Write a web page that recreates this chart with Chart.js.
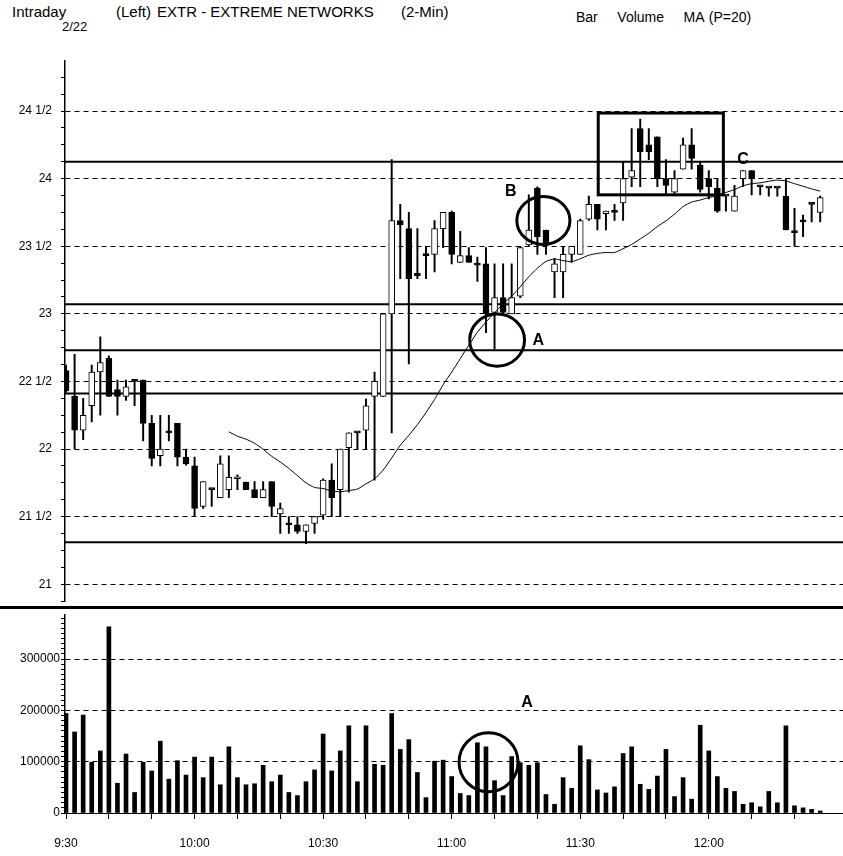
<!DOCTYPE html>
<html>
<head>
<meta charset="utf-8">
<script src="https://cdn.jsdelivr.net/npm/chart.js@4.4.1/dist/chart.umd.min.js"></script>
<style>
  body { margin: 0; background: #fff; }
  #wrap { position: relative; width: 843px; height: 856px; font-family: "Liberation Sans", Arial, sans-serif; color: #000; }
  .txt { position: absolute; white-space: pre; }
  canvas { position: absolute; left: 0; }
  #sep { position: absolute; left: 0; top: 606px; width: 843px; height: 3px; background: #000; }
</style>
</head>
<body>
<div id="wrap">
  <div class="txt" style="left:12px;top:3px;font-size:15px">Intraday</div>
  <div class="txt" style="left:62px;top:19px;font-size:13px">2/22</div>
  <div class="txt" style="left:116px;top:3px;font-size:15px">(Left)</div>
  <div class="txt" style="left:157px;top:3px;font-size:15px">EXTR - EXTREME NETWORKS</div>
  <div class="txt" style="left:401px;top:3px;font-size:15px">(2-Min)</div>
  <div class="txt" style="left:576px;top:9px;font-size:14px;word-spacing:1px">Bar    Volume    MA (P=20)</div>
  <canvas id="priceChart" width="843" height="618" style="top:0"></canvas>
  <canvas id="volumeChart" width="843" height="251" style="top:605px"></canvas>
  <div id="sep"></div>
</div>
<script>
// 2-minute bars from 9:30, index 0..88
const opens = [
  22.58, 22.39, 22.14, 22.32, 22.57, 22.67, 22.44, 22.39, 22.5, 22.51,
  22.19, 21.95, 22.13, 22.19, 21.94, 21.875, 21.575, 21.7, 21.64, 21.7,
  21.78, 21.755, 21.7, 21.64, 21.76, 21.52, 21.44, 21.44, 21.39, 21.45,
  21.51, 21.77, 21.7, 22.01, 22.12, 22.14, 22.39, 22.39, 23.0, 23.69,
  23.63, 23.3, 23.43, 23.44, 23.63, 23.75, 23.38, 23.43, 23.37, 23.37,
  23.01, 23.12, 23.0, 23.13, 23.51, 23.93, 23.62, 23.31, 23.31, 23.44,
  23.44, 23.7, 23.81, 23.74, 23.75, 23.82, 24.01, 24.37, 24.25, 24.31,
  24.0, 23.9, 24.07, 24.25, 24.1, 24.0, 23.93, 23.87, 23.76, 24.0,
  24.06, 23.94, 23.93, 23.93, 23.87, 23.61, 23.68, 23.81, 23.75
];
const highs = [
  22.62, 22.7, 22.375, 22.62, 22.83, 22.69, 22.51, 22.51, 22.51, 22.51,
  22.25, 22.25, 22.25, 22.19, 22.0, 21.94, 21.76, 21.7, 21.95, 21.95,
  21.81, 21.755, 21.76, 21.76, 21.76, 21.6, 21.5, 21.5, 21.44, 21.5,
  21.78, 21.89, 22.0, 22.12, 22.12, 22.37, 22.57, 23.0, 24.14, 23.81,
  23.75, 23.63, 23.5, 23.69, 23.75, 23.76, 23.61, 23.49, 23.42, 23.49,
  23.37, 23.37, 23.37, 23.5, 23.88, 23.94, 23.62, 23.41, 23.5, 23.5,
  23.7, 23.87, 23.81, 23.76, 23.81, 24.12, 24.37, 24.44, 24.37, 24.31,
  24.14, 24.06, 24.3, 24.37, 24.12, 24.06, 24.0, 23.87, 23.95, 24.06,
  24.06, 23.94, 23.93, 23.93, 24.0, 23.78, 23.73, 23.81, 23.87
];
const lows = [
  22.42, 22.0, 22.07, 22.2, 22.25, 22.39, 22.25, 22.36, 22.32, 22.06,
  21.875, 21.875, 22.06, 21.875, 21.88, 21.5, 21.56, 21.575, 21.64, 21.64,
  21.7, 21.7, 21.64, 21.64, 21.5, 21.375, 21.375, 21.375, 21.3, 21.375,
  21.48, 21.5, 21.5, 21.68, 22.0, 22.0, 21.77, 22.39, 22.12, 23.26,
  22.63, 23.26, 23.26, 23.31, 23.49, 23.37, 23.38, 23.38, 23.24, 22.86,
  22.74, 22.99, 23.0, 23.12, 23.5, 23.44, 23.44, 23.12, 23.12, 23.38,
  23.44, 23.69, 23.62, 23.62, 23.69, 23.69, 23.94, 23.94, 24.14, 23.94,
  23.89, 23.89, 24.07, 24.07, 23.9, 23.85, 23.75, 23.76, 23.76, 23.94,
  23.88, 23.88, 23.87, 23.87, 23.62, 23.5, 23.57, 23.68, 23.68
];
const closes = [
  22.43, 22.14, 22.25, 22.57, 22.64, 22.39, 22.39, 22.46, 22.5, 22.19,
  21.93, 22.0, 22.12, 21.94, 21.89, 21.56, 21.76, 21.7, 21.89, 21.79,
  21.79, 21.7, 21.64, 21.7, 21.575, 21.56, 21.44, 21.39, 21.44, 21.5,
  21.77, 21.64, 22.0, 22.12, 22.12, 22.32, 22.5, 23.0, 23.69, 23.66,
  23.26, 23.28, 23.43, 23.63, 23.75, 23.44, 23.43, 23.38, 23.36, 23.0,
  23.12, 23.01, 23.12, 23.49, 23.62, 23.57, 23.51, 23.37, 23.44, 23.5,
  23.69, 23.81, 23.7, 23.76, 23.75, 24.0, 24.06, 24.2, 24.2, 24.0,
  23.95, 24.0, 24.25, 24.15, 23.92, 23.94, 23.76, 23.87, 23.87, 24.06,
  24.0, 23.94, 23.93, 23.93, 23.62, 23.6, 23.68, 23.81, 23.86
];
const volumes = [
  194000, 158000, 191000, 99000, 121000, 363000, 58000, 115000, 40000, 99000,
  82000, 140000, 66000, 102000, 74000, 109000, 69000, 109000, 55000, 129000,
  69000, 55000, 57000, 93000, 61000, 74000, 40000, 34000, 61000, 84000,
  154000, 82000, 121000, 170000, 61000, 170000, 95000, 93000, 194000, 124000,
  143000, 79000, 30000, 101000, 103000, 71000, 38000, 34000, 137000, 129000,
  63000, 34000, 110000, 98000, 93000, 98000, 36000, 17000, 69000, 48000,
  131000, 104000, 45000, 39000, 51000, 116000, 129000, 56000, 46000, 72000,
  124000, 32000, 69000, 27000, 171000, 121000, 71000, 48000, 42000, 17000,
  20000, 12000, 42000, 20000, 170000, 14000, 10000, 7000, 4000
];
// support / resistance lines drawn on the price panel
const levels = [24.125, 23.07, 22.73, 22.41, 21.31];
const priceTicks = [21, 21.5, 22, 22.5, 23, 23.5, 24, 24.5];
const priceTickLabels = ['21', '21 1/2', '22', '22 1/2', '23', '23 1/2', '24', '24 1/2'];
const volumeTicks = [0, 100000, 200000, 300000];
const timeTicks = [0, 15, 30, 45, 60, 75];
const timeLabels = ['9:30', '10:00', '10:30', '11:00', '11:30', '12:00'];
const maPeriod = 20;

const X_MIN = -0.12, X_MAX = 90.66;
const PRICE_MIN = 20.87, PRICE_MAX = 24.87;
const VOL_MAX = 386000;
const FONT = { family: '"Liberation Sans", Arial, sans-serif', size: 12 };

// moving average of closes
const ma = [];
for (let i = maPeriod - 1; i < closes.length; i++) {
    let s = 0;
    for (let k = i - maPeriod + 1; k <= i; k++) s += closes[k];
    ma.push({ x: i, y: s / maPeriod });
}

const wicks = highs.map((h, i) => ({ x: i, y: [lows[i], h] }));
const bodies = opens.map((o, i) => ({ x: i, y: [o, closes[i]] }));

// hand-drawn marks (circles A/B, box C) in data units
const priceNotes = {
    ellipses: [{ x: 50.3, y: 22.806, rx: 3.2, ry: 0.193 }, { x: 55.7, y: 23.69, rx: 3.1, ry: 0.177 }],
    boxes: [{ x0: 62.1, x1: 76.7, y0: 24.485, y1: 23.88 }],
    letters: [{ x: 55.1, y: 22.80, t: 'A' }, { x: 51.9, y: 23.905, t: 'B' }, { x: 79.0, y: 24.14, t: 'C' }]
};
const volumeNotes = {
    ellipses: [{ x: 49.3, y: 99000, rx: 3.44, ry: 57500 }],
    boxes: [],
    letters: [{ x: 53.8, y: 216000, t: 'A' }]
};

function notesPlugin(notes) {
    return {
        id: 'notes',
        afterDatasetsDraw(chart) {
            const { ctx, scales: { x, y } } = chart;
            ctx.save();
            ctx.strokeStyle = '#000';
            ctx.lineWidth = 3;
            notes.ellipses.forEach(e => {
                const cx = x.getPixelForValue(e.x), cy = y.getPixelForValue(e.y);
                const rx = Math.abs(x.getPixelForValue(e.x + e.rx) - cx);
                const ry = Math.abs(y.getPixelForValue(e.y + e.ry) - cy);
                ctx.beginPath();
                ctx.ellipse(cx, cy, rx, ry, 0, 0, Math.PI * 2);
                ctx.stroke();
            });
            notes.boxes.forEach(b => {
                const x0 = x.getPixelForValue(b.x0), x1 = x.getPixelForValue(b.x1);
                const y0 = y.getPixelForValue(b.y0), y1 = y.getPixelForValue(b.y1);
                ctx.strokeRect(x0, y0, x1 - x0, y1 - y0);
            });
            ctx.fillStyle = '#000';
            ctx.font = 'bold 16px "Liberation Sans", Arial, sans-serif';
            ctx.textAlign = 'center';
            ctx.textBaseline = 'middle';
            notes.letters.forEach(l => {
                ctx.fillText(l.t, x.getPixelForValue(l.x), y.getPixelForValue(l.y));
            });
            ctx.restore();
        }
    };
}

// 1. Price panel
new Chart(document.getElementById('priceChart'), {
    type: 'bar',
    data: {
        datasets: [
            { type: 'line', data: ma, borderColor: '#000', borderWidth: 1, pointRadius: 0, tension: 0.2, order: 0 },
            { data: bodies, backgroundColor: closes.map((c, i) => c > opens[i] ? '#fff' : '#000'),
              borderColor: '#000', borderWidth: 1, borderSkipped: false, barThickness: 6,
              minBarLength: 2, grouped: false, order: 1 },
            { data: wicks, backgroundColor: '#000', barThickness: 1.3, grouped: false, order: 2 },
            ...levels.map(v => ({
                type: 'line', data: [{ x: X_MIN, y: v }, { x: X_MAX, y: v }],
                borderColor: '#000', borderWidth: 2, pointRadius: 0, order: 3
            }))
        ]
    },
    options: {
        responsive: false,
        animation: false,
        devicePixelRatio: 1,
        layout: { padding: { top: 61, bottom: 5, left: 0, right: 0 } },
        plugins: { legend: { display: false }, tooltip: { enabled: false } },
        scales: {
            x: { type: 'linear', min: X_MIN, max: X_MAX, offset: false, display: false, grid: { offset: false } },
            y: {
                min: PRICE_MIN, max: PRICE_MAX,
                afterFit: s => { s.width = 65; },
                afterBuildTicks: s => {
                    const t = [];
                    for (let v = 20.875; v <= PRICE_MAX; v += 0.125) t.push({ value: v });
                    s.ticks = t;
                },
                ticks: {
                    autoSkip: false, color: '#000', font: FONT, padding: 9,
                    callback: v => { const i = priceTicks.indexOf(v); return i >= 0 ? priceTickLabels[i] : ''; }
                },
                grid: {
                    color: c => (c.tick && priceTicks.includes(c.tick.value)) ? '#000' : 'rgba(0,0,0,0)',
                    tickColor: '#000', tickLength: 4, lineWidth: 1
                },
                border: { color: '#000', width: 1.5, dash: [5, 4] }
            }
        }
    },
    plugins: [notesPlugin(priceNotes)]
});

// 2. Volume panel
new Chart(document.getElementById('volumeChart'), {
    type: 'bar',
    data: {
        datasets: [{
            data: volumes.map((v, i) => ({ x: i, y: v })),
            backgroundColor: '#000', barThickness: 4, grouped: false
        }]
    },
    options: {
        responsive: false,
        animation: false,
        devicePixelRatio: 1,
        layout: { padding: { top: 10, bottom: 0, left: 0, right: 0 } },
        plugins: { legend: { display: false }, tooltip: { enabled: false } },
        scales: {
            x: {
                type: 'linear', min: X_MIN, max: X_MAX, offset: false,
                afterFit: s => { s.height = 43; },
                afterBuildTicks: s => {
                    const t = [];
                    for (let v = 0; v <= 85; v += 5) t.push({ value: v });
                    s.ticks = t;
                },
                ticks: {
                    autoSkip: false, maxRotation: 0, color: '#000', font: FONT, padding: 17,
                    callback: v => { const i = timeTicks.indexOf(v); return i >= 0 ? timeLabels[i] : ''; }
                },
                grid: { drawOnChartArea: false, offset: false, tickLength: 6, tickColor: '#000' },
                border: { color: '#000', width: 1 }
            },
            y: {
                min: 0, max: VOL_MAX,
                afterFit: s => { s.width = 65; },
                afterBuildTicks: s => {
                    const t = [];
                    for (let v = 0; v <= VOL_MAX; v += 10000) t.push({ value: v });
                    s.ticks = t;
                },
                ticks: {
                    autoSkip: false, color: '#000', font: FONT, padding: 1,
                    callback: v => volumeTicks.includes(v) ? String(v) : ''
                },
                grid: {
                    color: c => (c.tick && c.tick.value > 0 && volumeTicks.includes(c.tick.value)) ? '#000' : 'rgba(0,0,0,0)',
                    tickColor: '#000', tickLength: 4, lineWidth: 1
                },
                border: { color: '#000', width: 1.5, dash: [5, 4] }
            }
        }
    },
    plugins: [notesPlugin(volumeNotes)]
});
</script>
</body>
</html>
